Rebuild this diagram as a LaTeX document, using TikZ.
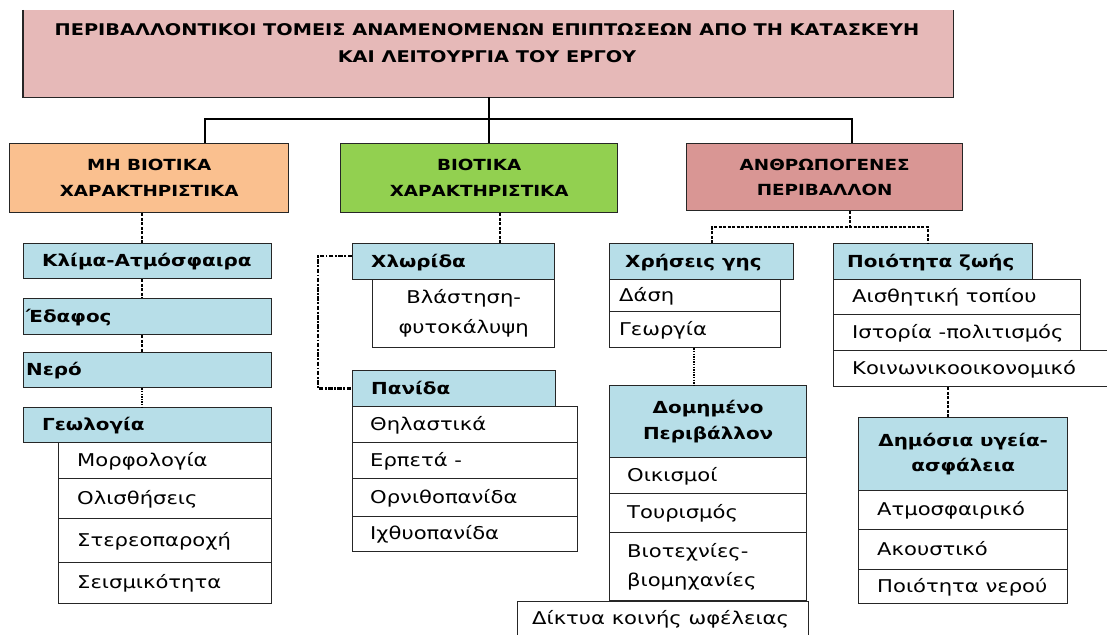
\documentclass[tikz,border=0pt]{standalone}
\usepackage{fontspec}
\setmainfont[FakeStretch=1.2]{DejaVu Sans}
\definecolor{titlefill}{HTML}{E6B9B8}
\definecolor{orfill}{HTML}{FAC08F}
\definecolor{grfill}{HTML}{92D050}
\definecolor{rdfill}{HTML}{D99694}
\definecolor{blfill}{HTML}{B7DEE8}
\definecolor{bordc}{HTML}{262626}
\tikzset{
  bord/.style={draw=bordc, line width=1.3pt},
  wbox/.style={bord, fill=white, inner sep=0pt},
  bbox/.style={bord, fill=blfill, inner sep=0pt},
  mainline/.style={line width=2.4pt, draw=black},
  thk/.style={line width=2.6pt, dash pattern=on 3pt off 1.5pt, draw=black},
  thn/.style={line width=1.6pt, dash pattern=on 1.4pt off 1.2pt, draw=black},
  ddash/.style={line width=2.4pt, dash pattern=on 4.5pt off 1.5pt on 1.8pt off 1.5pt, draw=black},
}
% left aligned single line box: name, style, x1, y1, x2, y2, inset, size, text
\newcommand\lbx[9]{%
  \pgfmathsetmacro\qqw{#5-#3}\pgfmathsetmacro\qqh{#6-#4}%
  \pgfmathsetmacro\qqy{(#4+#6)/2+0.365*#8}\pgfmathsetmacro\qqx{#3+#7}%
  \node[#2, anchor=north west, minimum width=\qqw pt, minimum height=\qqh pt] (#1) at (#3,#4) {};%
  \node[anchor=base west, inner sep=0pt, font=\fontsize{#8}{#8}\selectfont] (#1t) at (\qqx,\qqy) {#9};%
}
% centered multi-line box: name, style, x1, y1, x2, y2, font, text
\newcommand\cbx[8]{%
  \pgfmathsetmacro\qqw{#5-#3}\pgfmathsetmacro\qqh{#6-#4}%
  \node[#2, anchor=north west, minimum width=\qqw pt, minimum height=\qqh pt] (#1) at (#3,#4) {};%
  \node[anchor=center, inner sep=0pt, align=center, font=#7] (#1t) at (#1.center) {#8};%
}
\begin{document}
\begin{tikzpicture}[x=1pt,y=-1pt]
\useasboundingbox (0,0) rectangle (1107,634);
\clip (0,0) rectangle (1107,634);
\fill[white] (0,0) rectangle (1107,634);

% title
\node[fill=titlefill, inner sep=0pt, anchor=north west, minimum width=930pt, minimum height=87pt] (title) at (23,10) {};
\draw[bord] (title.north west) -- (title.south west) -- (title.south east) -- (title.north east);
\node[anchor=base, inner sep=0pt, font=\fontsize{16.1}{16.1}\selectfont\bfseries] (titlet1) at (487,36) {ΠΕΡΙΒΑΛΛΟΝΤΙΚΟΙ ΤΟΜΕΙΣ ΑΝΑΜΕΝΟΜΕΝΩΝ ΕΠΙΠΤΩΣΕΩΝ ΑΠΟ ΤΗ ΚΑΤΑΣΚΕΥΗ};
\node[anchor=base, inner sep=0pt, font=\fontsize{16.1}{16.1}\selectfont\bfseries] (titlet2) at (487,63) {ΚΑΙ ΛΕΙΤΟΥΡΓΙΑ ΤΟΥ ΕΡΓΟΥ};

% main categories
\cbx{mh}{bord, fill=orfill, inner sep=0pt}{9}{143}{288}{212}{\fontsize{15.3}{26}\selectfont\bfseries}{ΜΗ ΒΙΟΤΙΚΑ\\ΧΑΡΑΚΤΗΡΙΣΤΙΚΑ}
\cbx{biot}{bord, fill=grfill, inner sep=0pt}{340}{143}{617}{212}{\fontsize{15.3}{26}\selectfont\bfseries}{ΒΙΟΤΙΚΑ\\ΧΑΡΑΚΤΗΡΙΣΤΙΚΑ}
\cbx{anth}{bord, fill=rdfill, inner sep=0pt}{686}{143}{962}{210}{\fontsize{15.3}{25}\selectfont\bfseries}{ΑΝΘΡΩΠΟΓΕΝΕΣ\\ΠΕΡΙΒΑΛΛΟΝ}

% left column
\lbx{klima}{bbox}{23}{243}{271}{278}{19}{16.6}{\bfseries Κλίμα-Ατμόσφαιρα}
\lbx{edafos}{bbox}{23}{298}{271}{334}{3}{16.6}{\bfseries Έδαφος}
\lbx{nero}{bbox}{23}{352}{271}{387}{3}{16.6}{\bfseries Νερό}
\lbx{geol}{bbox}{23}{407}{271}{442}{19}{16.6}{\bfseries Γεωλογία}
\lbx{morf}{wbox}{58}{442}{271}{478}{19}{17.6}{Μορφολογία}
\lbx{olis}{wbox}{58}{478}{271}{518}{19}{17.6}{Ολισθήσεις}
\lbx{stereo}{wbox}{58}{518}{271}{562}{19}{17.6}{Στερεοπαροχή}
\lbx{seism}{wbox}{58}{562}{271}{603}{19}{17.6}{Σεισμικότητα}

% middle column
\lbx{xlor}{bbox}{352}{243}{554}{279}{19}{16.6}{\bfseries Χλωρίδα}
\cbx{vlast}{wbox}{372}{279}{554}{347}{\fontsize{17.6}{30}\selectfont}{Βλάστηση-\\φυτοκάλυψη}
\lbx{pan}{bbox}{352}{370}{555}{406}{19}{16.6}{\bfseries Πανίδα}
\lbx{thil}{wbox}{352}{406}{577}{442}{18}{17.6}{Θηλαστικά}
\lbx{erp}{wbox}{352}{442}{577}{478}{18}{17.6}{Ερπετά -}
\lbx{orn}{wbox}{352}{478}{577}{516}{18}{17.6}{Ορνιθοπανίδα}
\lbx{ixth}{wbox}{352}{516}{577}{551}{18}{17.6}{Ιχθυοπανίδα}

% right-middle column
\lbx{xrisi}{bbox}{609}{243}{793}{279}{16}{16.6}{\bfseries Χρήσεις γης}
\lbx{dasi}{wbox}{609}{279}{780}{311}{10}{17.6}{Δάση}
\lbx{georg}{wbox}{609}{311}{780}{347}{10}{17.6}{Γεωργία}
\cbx{dom}{bbox}{609}{385}{806}{457}{\fontsize{16.6}{26}\selectfont\bfseries}{Δομημένο\\Περιβάλλον}
\lbx{oik}{wbox}{609}{457}{806}{493}{18}{17.6}{Οικισμοί}
\lbx{tour}{wbox}{609}{493}{806}{532}{18}{17.6}{Τουρισμός}
\node[wbox, anchor=north west, minimum width=197pt, minimum height=68pt] (viot) at (609,532) {};
\node[anchor=west, inner sep=0pt, align=left, font=\fontsize{17.6}{29}\selectfont] (viott) at ([xshift=18pt]viot.west) {Βιοτεχνίες-\\βιομηχανίες};
\lbx{dikt}{wbox}{517}{601}{808}{636}{15}{17.6}{Δίκτυα κοινής ωφέλειας}

% right column
\lbx{poiot}{bbox}{833}{243}{1032}{279}{14}{16.6}{\bfseries Ποιότητα ζωής}
\lbx{aisth}{wbox}{833}{279}{1080}{314}{19}{17.6}{Αισθητική τοπίου}
\lbx{istor}{wbox}{833}{314}{1080}{350}{19}{17.6}{Ιστορία -πολιτισμός}
\lbx{koin}{wbox}{833}{350}{1115}{386}{19}{17.6}{Κοινωνικοοικονομικό}
\cbx{dim}{bbox}{858}{417}{1067}{490}{\fontsize{16.6}{25}\selectfont\bfseries}{Δημόσια υγεία-\\ασφάλεια}
\lbx{atm}{wbox}{858}{490}{1067}{529}{19}{17.6}{Ατμοσφαιρικό}
\lbx{akou}{wbox}{858}{529}{1067}{569}{19}{17.6}{Ακουστικό}
\lbx{potn}{wbox}{858}{569}{1067}{603}{19}{17.6}{Ποιότητα νερού}

% main tree connectors
\coordinate (jl) at (205,119);
\coordinate (jm) at (489,119);
\coordinate (jr) at (852,119);
\draw[mainline] (jm |- title.south) -- (jm |- biot.north);
\draw[mainline] (jl |- mh.north) -- (jl) -- (jr) -- (jr |- anth.north);

% left column connectors
\coordinate (lc) at (142,0);
\draw[thk] (lc |- mh.south) -- (lc |- klima.north);
\draw[thk] (lc |- klima.south) -- (lc |- edafos.north);
\draw[thk] (lc |- edafos.south) -- (lc |- nero.north);
\draw[thn] (lc |- nero.south) -- (lc |- geol.north);

% middle column connectors
\coordinate (mc) at (500,0);
\draw[thk] (mc |- biot.south) -- (mc |- xlor.north);
\coordinate (lp) at (318,0);
\draw[ddash] ([yshift=-13pt]xlor.north west) -| (lp |- pan.west) -- (pan.west);

% right connectors
\coordinate (ra) at (850,227);
\coordinate (ral) at (712,227);
\coordinate (rar) at (928,227);
\draw[thk] (ra |- anth.south) -- (ra);
\draw[thk] (ral |- xrisi.north) -- (ral) -- (rar) -- (rar |- poiot.north);
\coordinate (gc) at (694,0);
\draw[thn] (gc |- georg.south) -- (gc |- dom.north);
\coordinate (kc) at (948,0);
\draw[thk] (kc |- koin.south) -- (kc |- dim.north);
\end{tikzpicture}
\end{document}
